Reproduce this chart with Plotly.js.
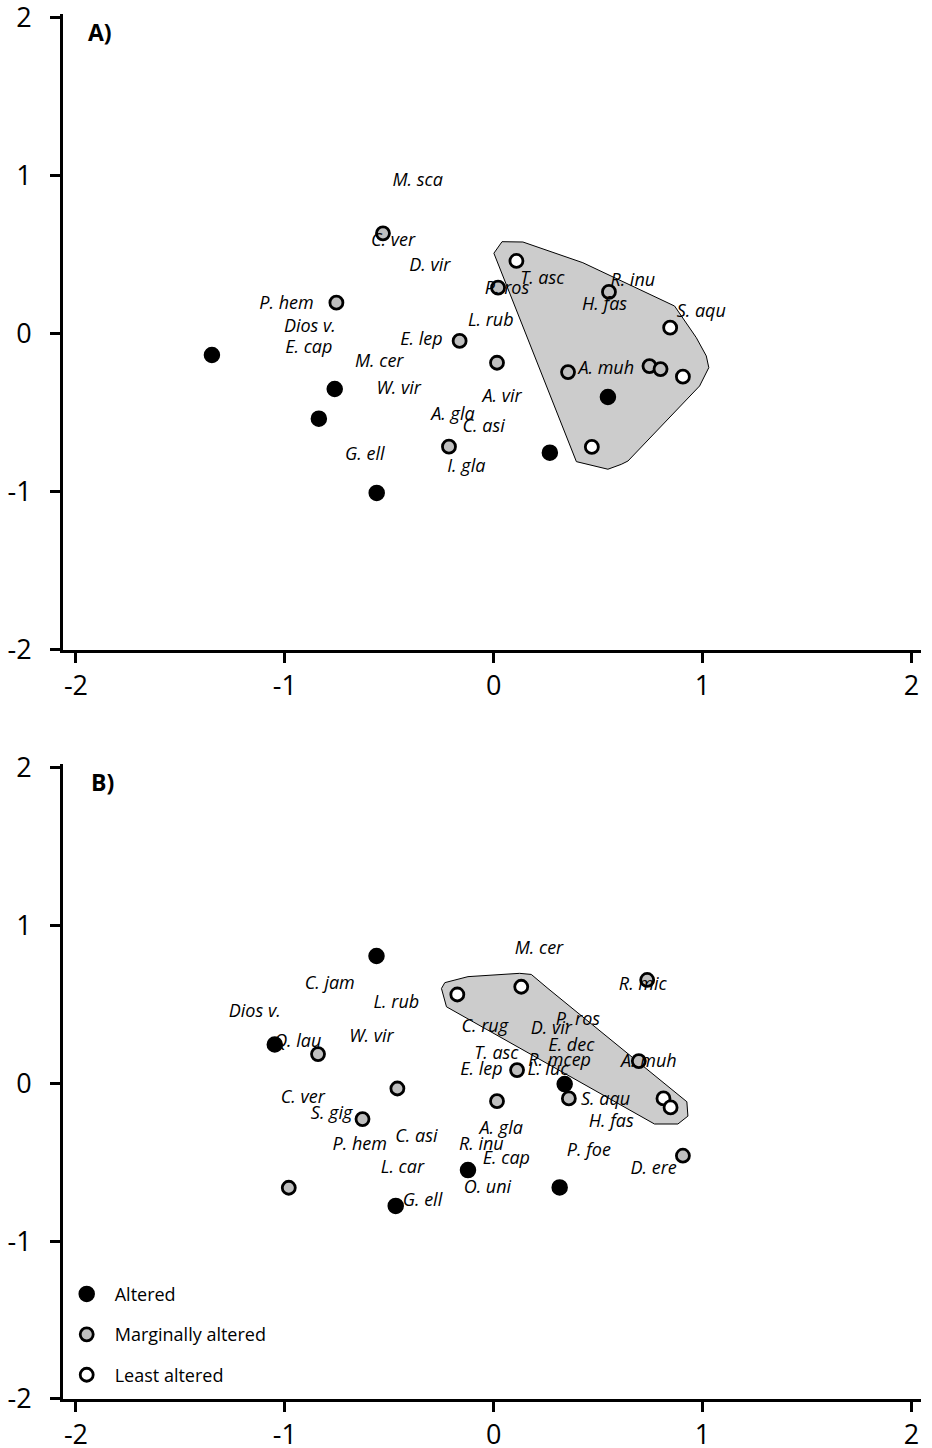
<!DOCTYPE html>
<html>
<head>
<meta charset="utf-8">
<script src="https://cdn.plot.ly/plotly-3.0.1.min.js"></script>
<style>html,body{margin:0;padding:0;background:#fff;}#chart{width:932px;height:1448px;}</style>
</head>
<body>
<div id="chart"></div>
<script>
// ---------- Panel A data ----------
const groupNames = ["Altered", "Marginally altered", "Least altered"];

const aAlteredX = [-1.349, -0.761, -0.837, -0.560, 0.269, 0.547];
const aAlteredY = [-0.133, -0.348, -0.536, -1.006, -0.751, -0.399];
const aMarginalX = [-0.530, -0.753, -0.163, 0.016, 0.021, -0.214, 0.552, 0.356, 0.746, 0.799];
const aMarginalY = [0.637, 0.198, -0.044, -0.182, 0.293, -0.713, 0.266, -0.241, -0.203, -0.222];
const aLeastX = [0.109, 0.845, 0.906, 0.470];
const aLeastY = [0.462, 0.040, -0.270, -0.715];

const aLabels = ["M. sca","C. ver","D. vir","P. hem","Dios v.","E. cap","M. cer","W. vir","E. lep","L. rub","P. ros","T. asc","R. inu","H. fas","S. aqu","A. muh","A. vir","A. gla","C. asi","G. ell","I. gla"];
const aLabelX = [-0.364,-0.482,-0.306,-0.992,-0.880,-0.885,-0.548,-0.455,-0.346,-0.014,0.064,0.233,0.666,0.531,0.994,0.539,0.040,-0.195,-0.048,-0.617,-0.131];
const aLabelY = [0.963,0.585,0.424,0.184,0.038,-0.095,-0.182,-0.354,-0.044,0.082,0.282,0.346,0.331,0.182,0.136,-0.224,-0.403,-0.514,-0.593,-0.772,-0.846];

const aHullX = [0.001, 0.040, 0.140, 0.427, 0.866, 0.970, 1.018, 1.030, 0.986, 0.643, 0.611, 0.547, 0.396, 0.001];
const aHullY = [0.511, 0.584, 0.582, 0.451, 0.177, -0.023, -0.139, -0.213, -0.329, -0.804, -0.825, -0.856, -0.808, 0.511];

// ---------- Panel B data ----------
const bAlteredX = [-0.561, -1.048, 0.340, -0.123, 0.316, -0.469];
const bAlteredY = [0.808, 0.247, -0.004, -0.549, -0.659, -0.776];
const bMarginalX = [-0.841, -0.461, -0.628, -0.981, 0.112, 0.016, 0.360, 0.695, 0.735, 0.906];
const bMarginalY = [0.186, -0.032, -0.226, -0.661, 0.085, -0.112, -0.095, 0.142, 0.656, -0.458];
const bLeastX = [-0.174, 0.132, 0.813, 0.847];
const bLeastY = [0.564, 0.613, -0.095, -0.152];

const bLabels = ["M. cer","C. jam","L. rub","R. mic","Dios v.","Q. lau","W. vir","C. rug","D. vir","P. ros","E. dec","T. asc","R. mcep","A. muh","E. lep","L. luc","C. ver","S. gig","S. aqu","H. fas","A. gla","P. hem","C. asi","R. inu","E. cap","P. foe","D. ere","L. car","O. uni","G. ell"];
const bLabelX = [0.217,-0.785,-0.466,0.714,-1.144,-0.938,-0.585,-0.043,0.276,0.403,0.372,0.013,0.316,0.743,-0.059,0.260,-0.914,-0.776,0.536,0.563,0.036,-0.641,-0.370,-0.059,0.061,0.456,0.766,-0.437,-0.030,-0.341];
const bLabelY = [0.846,0.628,0.508,0.618,0.450,0.258,0.290,0.355,0.340,0.397,0.234,0.181,0.142,0.131,0.085,0.085,-0.097,-0.197,-0.105,-0.249,-0.289,-0.396,-0.345,-0.391,-0.480,-0.434,-0.544,-0.541,-0.668,-0.748];

const bHullX = [-0.250, -0.234, -0.123, 0.124, 0.180, 0.260, 0.925, 0.930, 0.882, 0.770, -0.226, -0.250];
const bHullY = [0.602, 0.639, 0.677, 0.698, 0.691, 0.602, -0.116, -0.207, -0.257, -0.257, 0.486, 0.602];

const tickVals = [-2, -1, 0, 1, 2];
const tickText = ["-2", "-1", "0", "1", "2"];

// ---------- styles ----------
const FONT = "Open Sans, Noto Sans, sans-serif";
const markerStyles = [
  {color: "#000000", size: 15, line: {color: "#000000", width: 1.5}},
  {color: "#bfbfbf", size: 13, line: {color: "#000000", width: 2.8}},
  {color: "#ffffff", size: 13, line: {color: "#000000", width: 2.8}}
];

function hull(x, y, xa, ya) {
  return {x: x, y: y, xaxis: xa, yaxis: ya, type: "scatter", mode: "lines", fill: "toself",
    fillcolor: "#cccccc", line: {color: "#000000", width: 1}, showlegend: false, hoverinfo: "skip"};
}
function pts(x, y, i, xa, ya, showLeg) {
  return {x: x, y: y, xaxis: xa, yaxis: ya, type: "scatter", mode: "markers",
    name: groupNames[i], legendgroup: "g" + i, showlegend: showLeg,
    marker: markerStyles[i], hoverinfo: "skip"};
}
function labels(t, x, y, xa, ya) {
  return {x: x, y: y, text: t, xaxis: xa, yaxis: ya, type: "scatter", mode: "text",
    textposition: "middle center", textfont: {family: FONT, size: 18, color: "#000", style: "italic"},
    showlegend: false, hoverinfo: "skip"};
}

const data = [
  hull(aHullX, aHullY, "x", "y"),
  pts(aAlteredX, aAlteredY, 0, "x", "y", false),
  pts(aMarginalX, aMarginalY, 1, "x", "y", false),
  pts(aLeastX, aLeastY, 2, "x", "y", false),
  labels(aLabels, aLabelX, aLabelY, "x", "y"),
  hull(bHullX, bHullY, "x2", "y2"),
  pts(bAlteredX, bAlteredY, 0, "x2", "y2", true),
  pts(bMarginalX, bMarginalY, 1, "x2", "y2", true),
  pts(bLeastX, bLeastY, 2, "x2", "y2", true),
  labels(bLabels, bLabelX, bLabelY, "x2", "y2")
];

function xax(anchor) {
  return {anchor: anchor, range: [-2.062, 2.046], domain: [0, 1], showgrid: false, zeroline: false,
    showline: true, linecolor: "#000", linewidth: 3, ticks: "outside", ticklen: 10, tickwidth: 3,
    tickcolor: "#000", tickvals: tickVals, ticktext: tickText, ticklabelstandoff: 0,
    ticklabeloverflow: "allow",
    tickfont: {family: FONT, size: 27, color: "#000"}, fixedrange: true};
}
function yax(anchor, dom) {
  return {anchor: anchor, range: [-2, 2.025], domain: dom, showgrid: false, zeroline: false,
    showline: true, linecolor: "#000", linewidth: 3, ticks: "outside", ticklen: 10, tickwidth: 3,
    tickcolor: "#000", tickvals: tickVals, ticktext: tickText, ticklabelstandoff: 13,
    ticklabeloverflow: "allow",
    tickfont: {family: FONT, size: 27, color: "#000"}, fixedrange: true};
}

const layout = {
  width: 932, height: 1448,
  margin: {l: 63, r: 11, t: 14, b: 49},
  paper_bgcolor: "#fff", plot_bgcolor: "#fff",
  showlegend: true,
  xaxis: xax("y"),
  yaxis: yax("x", [0.5408, 1]),
  xaxis2: xax("y2"),
  yaxis2: yax("x2", [0, 0.4585]),
  legend: {x: -0.005, y: 0.089, xanchor: "left", yanchor: "top", bgcolor: "rgba(0,0,0,0)",
    borderwidth: 0, font: {family: FONT, size: 18, color: "#000"}, tracegroupgap: 14,
    traceorder: "grouped", itemwidth: 46},
  annotations: [
    {text: "<b>A)</b>", xref: "paper", yref: "paper", x: 0.0431, y: 0.987, showarrow: false,
      font: {family: FONT, size: 23, color: "#000"}, xanchor: "center", yanchor: "middle"},
    {text: "<b>B)</b>", xref: "paper", yref: "paper", x: 0.0466, y: 0.4458, showarrow: false,
      font: {family: FONT, size: 23, color: "#000"}, xanchor: "center", yanchor: "middle"}
  ]
};

Plotly.newPlot("chart", data, layout, {staticPlot: true, displayModeBar: false});
</script>
</body>
</html>
